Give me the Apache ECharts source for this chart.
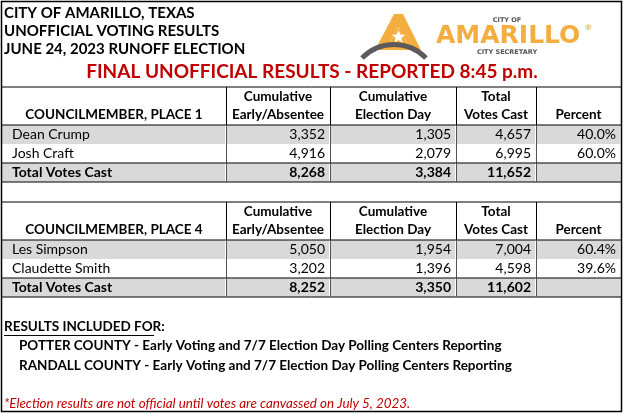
<!DOCTYPE html>
<html>
<head>
<meta charset="utf-8">
<script src="https://cdn.jsdelivr.net/npm/echarts@6/dist/echarts.min.js"></script>
<style>
  html, body { margin: 0; padding: 0; background: #fff; }
  #main { width: 624px; height: 414px; }
</style>
</head>
<body>
<div id="main"></div>
<script>
// ---- data ----
var titleLines = ['CITY OF AMARILLO, TEXAS', 'UNOFFICIAL VOTING RESULTS', 'JUNE 24, 2023 RUNOFF ELECTION'];
var reportTitle = 'FINAL UNOFFICIAL RESULTS - REPORTED 8:45 p.m.';
var columnHeaders = [['Cumulative', 'Early/Absentee'], ['Cumulative', 'Election Day'], ['Total', 'Votes Cast'], ['', 'Percent']];

var races = ['COUNCILMEMBER, PLACE 1', 'COUNCILMEMBER, PLACE 4'];
var candidatesPlace1 = ['Dean Crump', 'Josh Craft'];
var earlyPlace1 = [3352, 4916];
var electionDayPlace1 = [1305, 2079];
var totalPlace1 = [4657, 6995];
var percentPlace1 = [40.0, 60.0];

var candidatesPlace4 = ['Les Simpson', 'Claudette Smith'];
var earlyPlace4 = [5050, 3202];
var electionDayPlace4 = [1954, 1396];
var totalPlace4 = [7004, 4598];
var percentPlace4 = [60.4, 39.6];

var totalLabel = 'Total Votes Cast';
var totalEarly = [8268, 8252];
var totalElectionDay = [3384, 3350];
var totalCast = [11652, 11602];

var footerHead = 'RESULTS INCLUDED FOR:';
var footerLines = [
  'POTTER COUNTY - Early Voting and 7/7 Election Day Polling Centers Reporting',
  'RANDALL COUNTY - Early Voting and 7/7 Election Day Polling Centers Reporting'
];
var footNote = '*Election results are not official until votes are canvassed on July 5, 2023.';

// ---- layout (sheet units = px) ----
var colEdges = [2, 226, 330, 456, 536, 621];
var tableTop = [87, 202];
var headerH = 38;
var rowH = 19;
var FONT = 'Lato, "Open Sans", sans-serif';
var GRAY = '#d9d9d9';
var RED = '#c00000';
var ORANGE = '#f4ae3f';

// rows of each table: [name, early, day, total, percent, isTotal]
function buildRows(names, early, day, total, pct, t) {
  var rows = [];
  for (var i = 0; i < names.length; i++) {
    rows.push([names[i], early[i], day[i], total[i], pct[i], 0]);
  }
  rows.push([totalLabel, totalEarly[t], totalElectionDay[t], totalCast[t], null, 1]);
  return rows;
}
var tables = [
  buildRows(candidatesPlace1, earlyPlace1, electionDayPlace1, totalPlace1, percentPlace1, 0),
  buildRows(candidatesPlace4, earlyPlace4, electionDayPlace4, totalPlace4, percentPlace4, 1)
];

// one data item per row; row -1 is the header
var cellData = [];
tables.forEach(function (rows, t) {
  cellData.push([t, -1]);
  rows.forEach(function (r, i) { cellData.push([t, i]); });
});

function fmt(n) { return n.toLocaleString('en-US'); }

function renderRow(params, api) {
  var t = api.value(0), r = api.value(1);
  var kids = [];
  var top = r < 0 ? tableTop[t] : tableTop[t] + headerH + r * rowH;
  var h = r < 0 ? headerH : rowH;
  var p0 = api.coord([colEdges[0], top]);
  var p1 = api.coord([colEdges[colEdges.length - 1], top + h]);

  if (r < 0) {
    // header
    var pHead = api.coord([(colEdges[0] + colEdges[1]) / 2, top + 28]);
    kids.push({ type: 'text', style: { text: races[t], x: pHead[0], y: pHead[1], align: 'center', verticalAlign: 'middle', font: 'bold 13.5px ' + FONT, fill: '#000' } });
    for (var c = 0; c < columnHeaders.length; c++) {
      var cx = (colEdges[c + 1] + colEdges[c + 2]) / 2;
      var a = api.coord([cx, top + 10]);
      var b = api.coord([cx, top + 28]);
      kids.push({ type: 'text', style: { text: columnHeaders[c][0], x: a[0], y: a[1], align: 'center', verticalAlign: 'middle', font: 'bold 13.5px ' + FONT, fill: '#000' } });
      kids.push({ type: 'text', style: { text: columnHeaders[c][1], x: b[0], y: b[1], align: 'center', verticalAlign: 'middle', font: 'bold 13.5px ' + FONT, fill: '#000' } });
    }
    kids.push({ type: 'line', shape: { x1: p0[0], y1: p0[1], x2: p1[0], y2: p0[1] }, style: { stroke: '#000', lineWidth: 1 } });
  } else {
    var row = tables[t][r];
    var isTotal = row[5] === 1;
    var shaded = r === 0 || isTotal;
    if (shaded) {
      for (var k = 0; k < colEdges.length - 1; k++) {
        var q0 = api.coord([colEdges[k], top]);
        var q1 = api.coord([colEdges[k + 1], top + h]);
        kids.push({ type: 'rect', shape: { x: q0[0], y: q0[1], width: q1[0] - q0[0] - 1, height: q1[1] - q0[1] }, style: { fill: GRAY } });
      }
    }
    var font = (isTotal ? 'bold ' : '') + '14px ' + FONT;
    var nameP = api.coord([colEdges[0] + 10, top + h / 2]);
    kids.push({ type: 'text', style: { text: row[0], x: nameP[0], y: nameP[1], align: 'left', verticalAlign: 'middle', font: font, fill: '#000' } });
    for (var j = 1; j <= 4; j++) {
      if (row[j] === null) continue;
      var txt = j === 4 ? row[j].toFixed(1) + '%' : fmt(row[j]);
      var np = api.coord([colEdges[j + 1] - 5, top + h / 2]);
      kids.push({ type: 'text', style: { text: txt, x: np[0], y: np[1], align: 'right', verticalAlign: 'middle', font: font, fill: '#000' } });
    }
    if (r === 0) {
      kids.push({ type: 'line', shape: { x1: p0[0], y1: p0[1], x2: p1[0], y2: p0[1] }, style: { stroke: '#000', lineWidth: 1 } });
    }
    if (isTotal) {
      kids.push({ type: 'line', shape: { x1: p0[0], y1: p0[1], x2: p1[0], y2: p0[1] }, style: { stroke: '#000', lineWidth: 1 } });
      kids.push({ type: 'line', shape: { x1: p0[0], y1: p1[1], x2: p1[0], y2: p1[1] }, style: { stroke: '#000', lineWidth: 1 } });
    }
  }
  // vertical rules
  for (var v = 1; v < colEdges.length - 1; v++) {
    var vx = api.coord([colEdges[v], top]);
    var vy = api.coord([colEdges[v], top + h]);
    kids.push({ type: 'line', shape: { x1: Math.round(vx[0]) + 0.5, y1: vx[1], x2: Math.round(vx[0]) + 0.5, y2: vy[1] }, style: { stroke: r < 0 ? '#000' : '#555', lineWidth: 1 } });
  }
  return { type: 'group', children: kids };
}

// ---- logo (decoration) ----
var logo = [
  { type: 'polygon', shape: { points: [[394, 14], [403, 14], [421, 50], [411, 50], [398.5, 27], [386, 50], [375, 50]] }, style: { fill: ORANGE } },
  { type: 'polygon', shape: { points: [[398.5, 27], [411, 50], [386, 50]] }, style: { fill: ORANGE } },
  { type: 'polygon', shape: { points: (function () {
      var pts = [], cx = 398.5, cy = 37;
      for (var i = 0; i < 10; i++) {
        var rr = i % 2 === 0 ? 7 : 3;
        var ang = -Math.PI / 2 + i * Math.PI / 5;
        pts.push([cx + rr * Math.cos(ang), cy + rr * Math.sin(ang)]);
      }
      return pts;
    })() }, style: { fill: '#fff' } },
  { type: 'bezierCurve', shape: { x1: 362, y1: 58, x2: 426, y2: 58, cpx1: 380, cpy1: 40, cpx2: 408, cpy2: 40 }, style: { stroke: '#5b5b5b', lineWidth: 5, fill: null } },
  { type: 'text', style: { text: 'AMARILLO', x: 436, y: 36, verticalAlign: 'middle', font: 'bold 25px "DejaVu Sans", sans-serif', fill: ORANGE } },
  { type: 'text', style: { text: '®', x: 585, y: 27, verticalAlign: 'middle', font: 'bold 8px ' + FONT, fill: ORANGE } },
  { type: 'text', style: { text: 'CITY OF', x: 507, y: 20, align: 'center', verticalAlign: 'middle', font: 'bold 6.5px "DejaVu Sans", sans-serif', fill: '#555' } },
  { type: 'text', style: { text: 'CITY SECRETARY', x: 507, y: 52, align: 'center', verticalAlign: 'middle', font: 'bold 6.5px "DejaVu Sans", sans-serif', fill: '#555' } }
];

var graphics = [
  { type: 'rect', shape: { x: 1.5, y: 1.5, width: 620, height: 410 }, style: { fill: null, stroke: '#000', lineWidth: 1.5 }, z: 10 }
];
titleLines.forEach(function (s, i) {
  graphics.push({ type: 'text', style: { text: s, x: 4, y: 13 + i * 18, verticalAlign: 'middle', font: 'bold 15px ' + FONT, fill: '#000' } });
});
graphics.push({ type: 'text', style: { text: reportTitle, x: 312, y: 72, align: 'center', verticalAlign: 'middle', font: 'bold 19px ' + FONT, fill: RED } });
graphics = graphics.concat(logo);
graphics.push({ type: 'text', style: { text: footerHead, x: 4, y: 327, verticalAlign: 'middle', font: 'bold 13.5px ' + FONT, fill: '#000' } });
graphics.push({ type: 'line', shape: { x1: 4, y1: 335.5, x2: 154, y2: 335.5 }, style: { stroke: '#000', lineWidth: 1 } });
footerLines.forEach(function (s, i) {
  graphics.push({ type: 'text', style: { text: s, x: 19, y: 346 + i * 20, verticalAlign: 'middle', font: 'bold 13.5px ' + FONT, fill: '#000' } });
});
graphics.push({ type: 'text', style: { text: footNote, x: 4, y: 404, verticalAlign: 'middle', font: 'italic 13.4px ' + FONT, fill: RED } });

var chart = echarts.init(document.getElementById('main'));
chart.setOption({
  animation: false,
  backgroundColor: '#fff',
  grid: { left: 0, right: 0, top: 0, bottom: 0 },
  xAxis: { type: 'value', min: 0, max: 624, show: false },
  yAxis: { type: 'value', min: 0, max: 414, inverse: true, show: false },
  graphic: graphics,
  series: [{
    type: 'custom',
    renderItem: renderRow,
    data: cellData,
    silent: true
  }]
});
</script>
</body>
</html>
